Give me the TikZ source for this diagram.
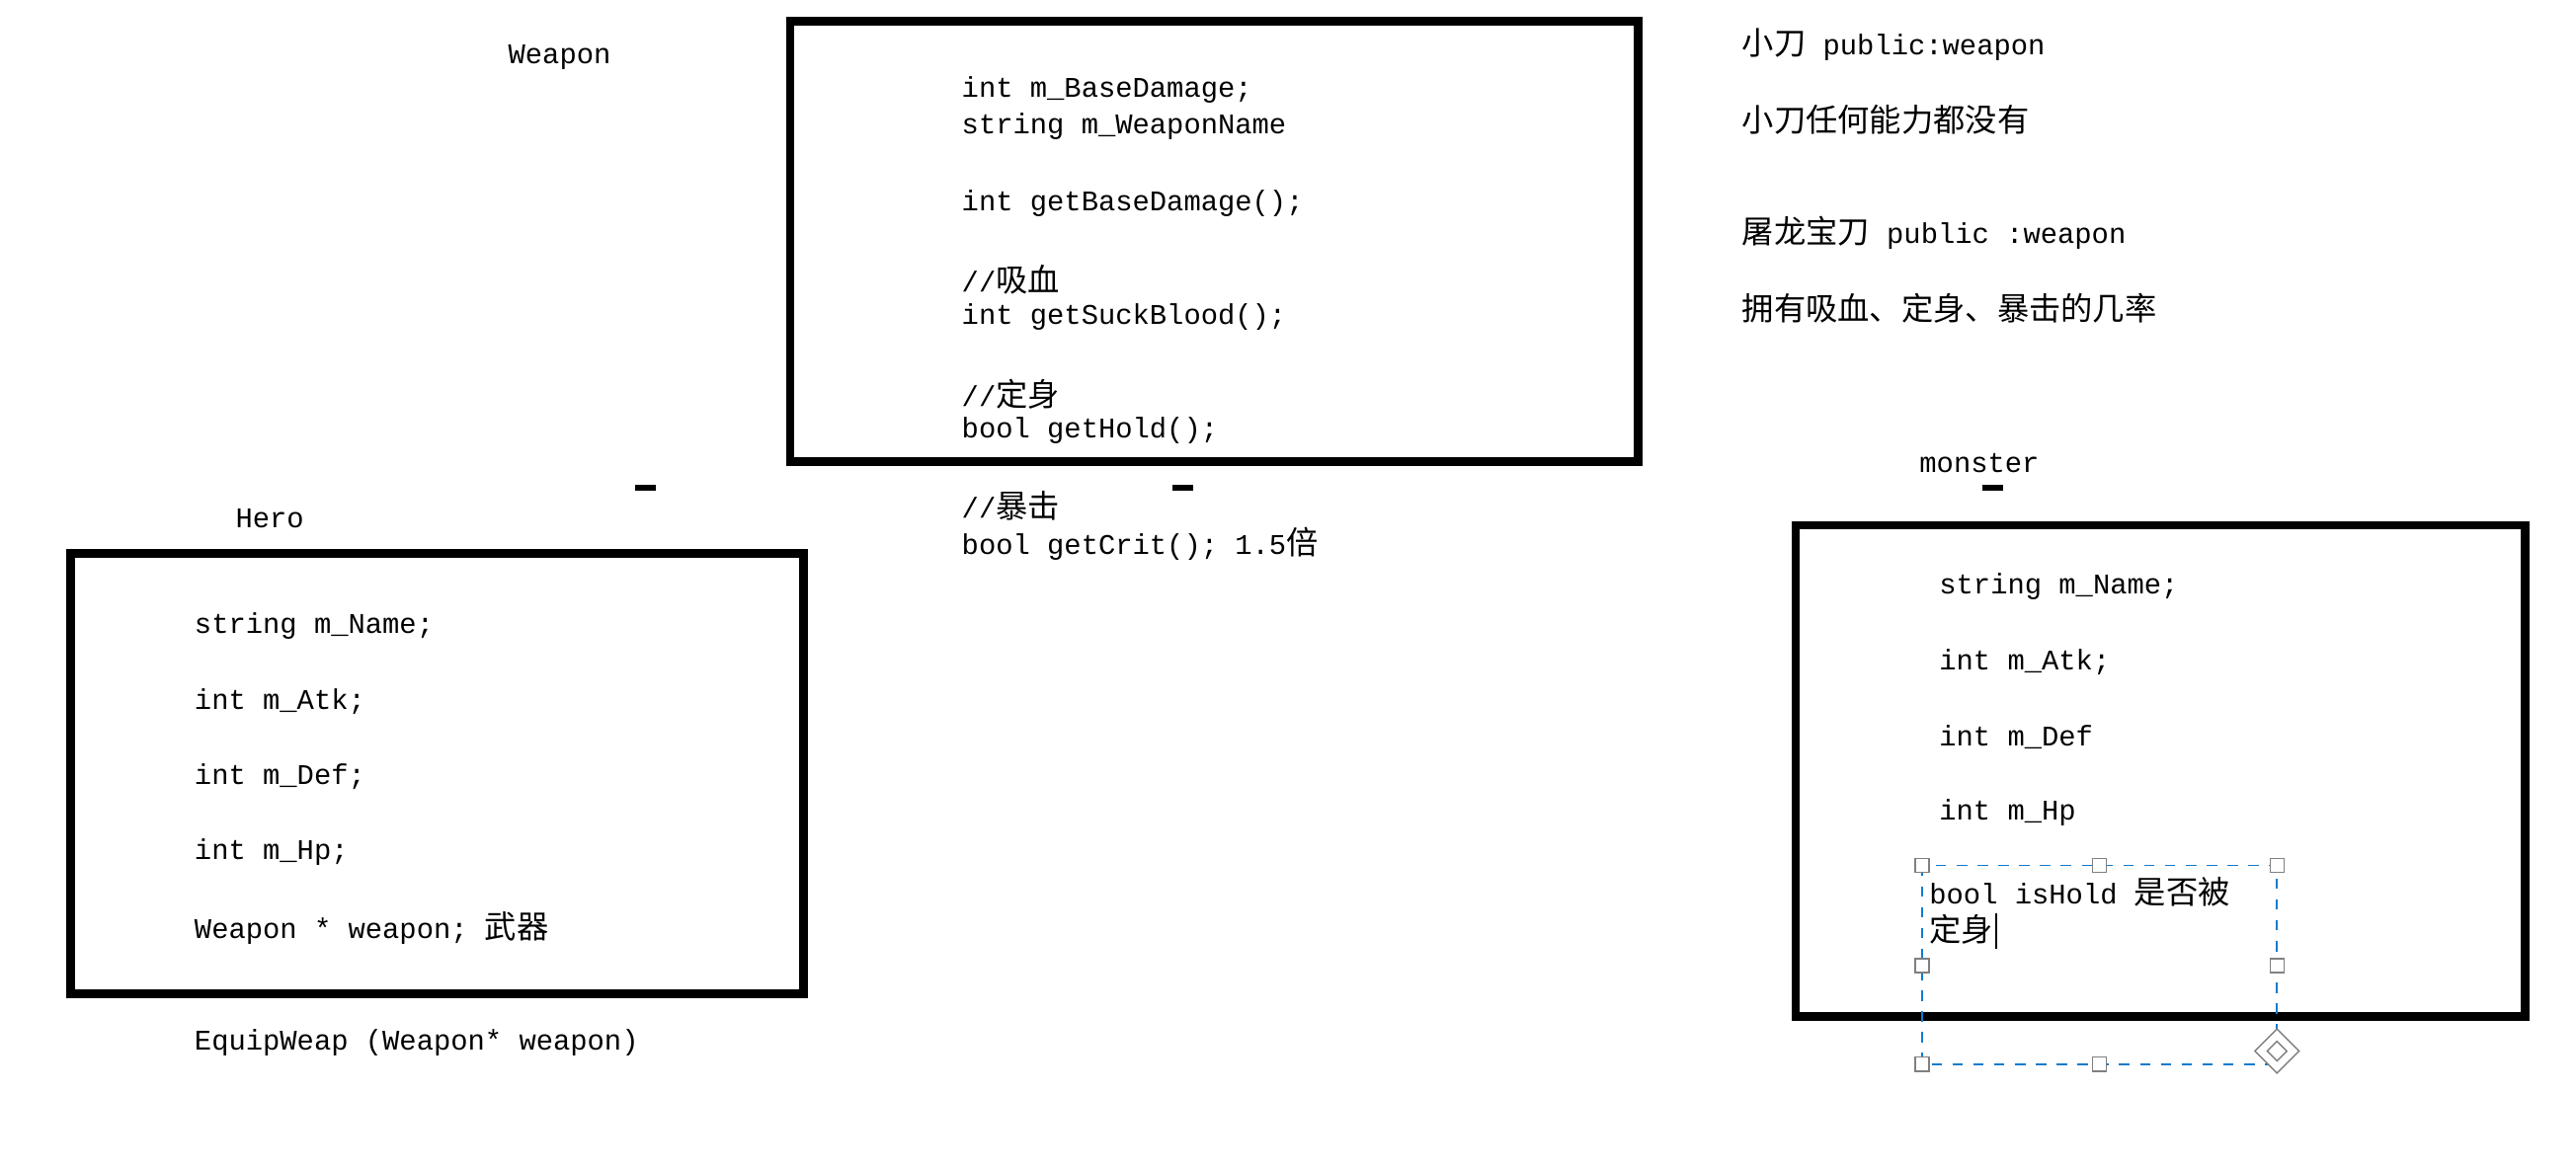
\documentclass[tikz,border=0pt]{standalone}
\usepackage{fontspec}
\setmainfont{Liberation Mono}
\newfontfamily\cjk{Noto Sans CJK SC}[Scale=1.12]
\begin{document}
\begin{tikzpicture}[x=0.01663cm,y=-0.01663cm,
  txt/.style={anchor=west,inner sep=0,font=\fontsize{8.2}{10}\selectfont},
  box/.style={draw,line width=2.4pt},
  handle/.style={draw=gray,fill=white,line width=0.4pt,minimum size=4pt,inner sep=0,rectangle},
  tick/.style={fill=black,minimum width=6pt,minimum height=1.8pt,inner sep=0}]
\useasboundingbox (0,0) rectangle (1568,713);
\node[txt] (wlab) at (309,35) {Weapon};
\draw[box] (481,13) rectangle (997,281);
\node[txt] (w1) at (585,55) {int m\_BaseDamage;};
\node[txt] (w2) at (585,77) {string m\_WeaponName};
\node[txt] (w3) at (585,124) {int getBaseDamage();};
\node[txt] (w4) at (585,170) {//{\cjk 吸血}};
\node[txt] (w5) at (585,193) {int getSuckBlood();};
\node[txt] (w6) at (585,240) {//{\cjk 定身}};
\node[txt] (w7) at (585,262) {bool getHold();};
\node[txt] (w8) at (585,308) {//{\cjk 暴击}};
\node[txt] (w9) at (585,331) {bool getCrit(); 1.5{\cjk 倍}};
\node[tick] (t1) at (393,297) {};
\node[tick] (t2) at (720,297) {};
\node[tick] (t3) at (1213,297) {};
\node[txt] (r1) at (1060,27) {{\cjk 小刀}  public:weapon};
\node[txt] (r2) at (1060,73) {\cjk 小刀任何能力都没有};
\node[txt] (r3) at (1060,142) {{\cjk 屠龙宝刀} public :weapon};
\node[txt] (r4) at (1060,188) {\cjk 拥有吸血、定身、暴击的几率};
\node[txt] (hlab) at (143,316) {Hero};
\draw[box] (43,337) rectangle (489,605);
\node[txt] (h1) at (118,381) {string m\_Name;};
\node[txt] (h2) at (118,427) {int m\_Atk;};
\node[txt] (h3) at (118,473) {int m\_Def;};
\node[txt] (h4) at (118,519) {int m\_Hp;};
\node[txt] (h5) at (118,565) {Weapon * weapon; {\cjk 武器}};
\node[txt] (h6) at (118,635) {EquipWeap (Weapon* weapon)};
\node[txt] (mlab) at (1168,282) {monster};
\draw[box] (1093,320) rectangle (1537,619);
\node[txt] (m1) at (1180,357) {string m\_Name;};
\node[txt] (m2) at (1180,403) {int m\_Atk;};
\node[txt] (m3) at (1180,449) {int m\_Def};
\node[txt] (m4) at (1180,495) {int m\_Hp};
\node[txt] (m5) at (1174,543) {bool isHold {\cjk 是否被}};
\node[txt] (m6) at (1174,566) {{\cjk 定身}};
\draw[line width=0.5pt] (1215,556) -- (1215,578);
\draw[dashed,draw=cyan!60!blue,line width=0.5pt] (1170,527) rectangle (1386,648);
\foreach \p in {(1170,527),(1278,527),(1386,527),(1170,588),(1386,588),(1170,648),(1278,648)}
  \node[handle] at \p {};
\node[draw=gray,fill=white,rotate=45,minimum size=9pt,inner sep=0] (mv) at (1386,640) {};
\node[draw=gray,fill=white,rotate=45,minimum size=4pt,inner sep=0] at (mv) {};
\end{tikzpicture}
\end{document}
